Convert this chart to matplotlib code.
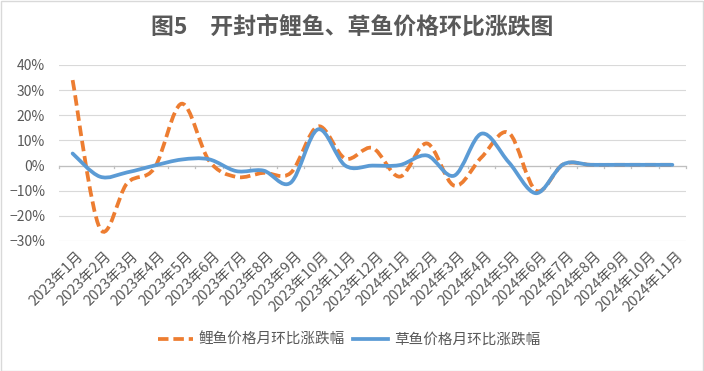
import numpy as np
import matplotlib
matplotlib.use('Agg')
import matplotlib.pyplot as plt
from matplotlib.path import Path
from matplotlib.patches import PathPatch, Rectangle
from matplotlib.lines import Line2D
from matplotlib.ticker import FixedLocator, PercentFormatter

plt.rcParams['font.family'] = ['Noto Sans CJK SC', 'DejaVu Sans']

# Monthly labels and month-on-month change (%)
months = ['2023年1月', '2023年2月', '2023年3月', '2023年4月', '2023年5月', '2023年6月',
          '2023年7月', '2023年8月', '2023年9月', '2023年10月', '2023年11月', '2023年12月',
          '2024年1月', '2024年2月', '2024年3月', '2024年4月', '2024年5月', '2024年6月',
          '2024年7月', '2024年8月', '2024年9月', '2024年10月', '2024年11月']
carp = [34, -25, -7, -1, 24.6, 2, -4.5, -2.9, -2.9, 15.6, 2.8, 7,
        -4.4, 8.8, -8, 3.3, 13, -10, 0.5, 0.3, 0.3, 0.3, 0.3]
grass_carp = [4.8, -4.4, -2.7, 0, 2.4, 2.5, -2.2, -2, -6.8, 14.4, 0, 0,
              0.2, 4, -4, 12.7, 1.3, -11, 0.5, 0.3, 0.3, 0.3, 0.3]

ORANGE = '#ED7D31'
BLUE = '#5B9BD5'
GREY = '#595959'


# Excel-style smoothed line: cubic bezier through every point
def smooth_path(x, y):
    pts = np.column_stack([x, y]).astype(float)
    n = len(pts)
    verts = [pts[0]]
    codes = [Path.MOVETO]
    for i in range(n - 1):
        p0 = pts[max(i - 1, 0)]
        p1 = pts[i]
        p2 = pts[i + 1]
        p3 = pts[min(i + 2, n - 1)]
        verts += [p1 + (p2 - p0) / 6.0, p2 - (p3 - p1) / 6.0, p2]
        codes += [Path.CURVE4] * 3
    return Path(verts, codes)


fig = plt.figure(figsize=(7.04, 3.71), dpi=100)
ax = fig.add_axes([59 / 704, 1 - 241 / 371, 627 / 704, 176 / 371])

x = np.arange(len(months))
ax.add_patch(PathPatch(smooth_path(x, carp), fill=False, edgecolor=ORANGE, lw=2.7,
                       linestyle=(0, (2.8, 1.3)), capstyle='butt', zorder=3))
ax.add_patch(PathPatch(smooth_path(x, grass_carp), fill=False, edgecolor=BLUE, lw=2.7,
                       capstyle='round', joinstyle='round', zorder=4))

ax.set_xlim(-0.5, len(months) - 0.5)
ax.set_ylim(-30, 40)
ax.yaxis.set_major_locator(FixedLocator(np.arange(-30, 41, 10)))
ax.yaxis.set_major_formatter(PercentFormatter(decimals=0))
ax.grid(axis='y', color='#D9D9D9', lw=0.8)
ax.set_axisbelow(True)
for s in ax.spines.values():
    s.set_visible(False)
ax.tick_params(axis='y', length=0, labelsize=10, labelcolor=GREY, pad=10)

# zero line with category tick marks
ax.axhline(0, color='#BFBFBF', lw=0.9, zorder=2)
for b in np.arange(-0.5, len(months), 1):
    ax.plot([b, b], [0, -0.8], color='#BFBFBF', lw=0.9, zorder=2, clip_on=False)

ax.set_xticks(x + 0.15)
ax.set_xticklabels(months, rotation=45, ha='right', va='top', rotation_mode='anchor')
ax.tick_params(axis='x', length=0, labelsize=10.5, labelcolor=GREY, pad=6)

fig.text(0.5, 1 - 27 / 371, '图5　开封市鲤鱼、草鱼价格环比涨跌图', ha='center', va='center',
         fontsize=16.5, fontweight='bold', color=GREY)

handles = [Line2D([], [], color=ORANGE, lw=2.7, linestyle=(0, (2.8, 1.3))),
           Line2D([], [], color=BLUE, lw=2.7)]
fig.legend(handles, ['鲤鱼价格月环比涨跌幅', '草鱼价格月环比涨跌幅'], loc='center',
           bbox_to_anchor=(349 / 704, 1 - 340 / 371), ncol=2, frameon=False,
           fontsize=10.5, labelcolor=GREY, handlelength=2.4, columnspacing=0.6,
           handletextpad=0.4)

fig.patches.append(Rectangle((0.5 / 704, 0.5 / 371), 1 - 1.5 / 704, 1 - 1.5 / 371,
                             transform=fig.transFigure, fill=False,
                             edgecolor='#D9D9D9', lw=1))

fig.savefig('out.png', dpi=100)
